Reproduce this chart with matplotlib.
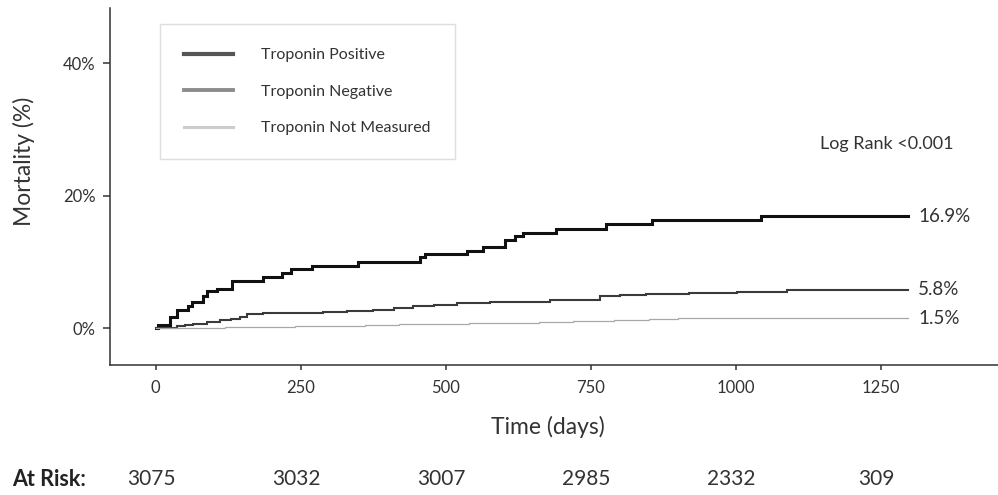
import matplotlib
matplotlib.use("Agg")
import matplotlib.pyplot as plt
import matplotlib.transforms as mtransforms
from matplotlib.lines import Line2D
from matplotlib.ticker import PercentFormatter

plt.rcParams['font.family'] = ['Lato', 'DejaVu Sans']

# Kaplan-Meier style cumulative mortality (%)
pos_t = [0, 4.5, 24.7, 36, 56, 62, 82, 88, 105, 131, 185, 217, 234, 269, 349,
         456, 464, 536, 565, 602, 619, 634, 690, 776, 855, 1044, 1297]
pos_y = [0, 0.45, 1.7, 2.7, 3.3, 4.0, 4.8, 5.6, 6.0, 7.2, 7.8, 8.3, 8.9, 9.4, 10.0,
         10.8, 11.2, 11.7, 12.2, 13.3, 13.9, 14.4, 15.0, 15.7, 16.3, 16.9, 16.9]

neg_t = [0, 25, 36, 50, 65, 88, 110, 130, 145, 157, 185, 230, 289, 330, 375, 410,
         444, 480, 519, 576, 628, 680, 766, 800, 846, 920, 1002, 1088, 1297]
neg_y = [0, 0.1, 0.35, 0.5, 0.7, 0.95, 1.2, 1.45, 1.7, 2.1, 2.3, 2.35, 2.45, 2.6, 2.8, 3.0,
         3.3, 3.55, 3.8, 4.0, 4.0, 4.3, 4.9, 5.05, 5.2, 5.35, 5.55, 5.8, 5.8]

nm_t = [0, 10, 60, 120, 180, 240, 300, 360, 420, 480, 540, 600, 660, 720, 790, 850, 900, 1297]
nm_y = [0, 0.05, 0.1, 0.15, 0.2, 0.3, 0.4, 0.5, 0.6, 0.7, 0.8, 0.85, 0.95, 1.1, 1.3, 1.4, 1.5, 1.5]

series_labels = ["Troponin Positive", "Troponin Negative", "Troponin Not Measured"]
end_labels = ["16.9%", "5.8%", "1.5%"]

risk_days = [0, 250, 500, 750, 1000, 1250]
at_risk = [3075, 3032, 3007, 2985, 2332, 309]

txt = "#333333"

fig = plt.figure(figsize=(9.98, 4.95), dpi=100)
ax = fig.add_axes([110 / 998, 1 - 365 / 495, 888 / 998, 356.7 / 495])

curves = [(pos_t, pos_y, "#111111", 2.2),
          (neg_t, neg_y, "#3a3a3a", 1.5),
          (nm_t, nm_y, "#a8a8a8", 0.9)]
for (t, y, c, lw), lab in zip(curves, end_labels):
    ax.step(t, y, where="post", color=c, lw=lw, solid_joinstyle="miter")
    ax.text(t[-1] + 17, y[-1], lab, fontsize=13.5, color=txt, va="center", ha="left")

ax.text(1145, 27.8, "Log Rank <0.001", fontsize=13, color=txt, va="center", ha="left")

ax.set_xlim(-78.8, 1452)
ax.set_ylim(-5.54, 48.3)
ax.set_xticks(risk_days)
ax.set_yticks([0, 20, 40])
ax.yaxis.set_major_formatter(PercentFormatter(xmax=100, decimals=0))

for s in ["top", "right"]:
    ax.spines[s].set_visible(False)
for s in ["left", "bottom"]:
    ax.spines[s].set_color("#333333")
    ax.spines[s].set_linewidth(1.1)

ax.tick_params(axis="x", length=3.6, width=1.1, color="#333333", pad=7.5,
               labelsize=12, labelcolor=txt)
ax.tick_params(axis="y", length=5, width=1.1, color="#333333", pad=5.5,
               labelsize=12, labelcolor=txt)

ax.set_xlabel("Time (days)", fontsize=16.5, color=txt)
ax.xaxis.set_label_coords((548 - 110) / 888, (365 - 426.7) / 356.7)
ax.xaxis.label.set_va("center")
ax.set_ylabel("Mortality (%)", fontsize=16.5, color=txt)
ax.yaxis.set_label_coords((24 - 110) / 888, (365 - 161.7) / 356.7)
ax.yaxis.label.set_va("center")

handles = [Line2D([], [], color="#555555", lw=3.0),
           Line2D([], [], color="#8c8c8c", lw=2.8),
           Line2D([], [], color="#cccccc", lw=2.2)]
leg = ax.legend(handles, series_labels, loc="upper left",
                bbox_to_anchor=((160 - 110) / 888, (365 - 24) / 356.7),
                fontsize=11.5, handlelength=3.1, handletextpad=1.75,
                borderpad=1.5, labelspacing=1.4, fancybox=False,
                frameon=True, borderaxespad=0)
leg.get_frame().set_edgecolor("#d6d6d6")
leg.get_frame().set_linewidth(1.0)
for t in leg.get_texts():
    t.set_color(txt)

# at-risk table under the axis
trans = mtransforms.blended_transform_factory(ax.transData, fig.transFigure)
fig.text(11.7 / 998, 1 - 479 / 495, "At Risk:", fontsize=15.5, fontweight="bold",
         color="#222222", va="center", ha="left")
for d, n in zip(risk_days, at_risk):
    ax.text(d - 8, 1 - 479 / 495, str(n), transform=trans, fontsize=15,
            color=txt, va="center", ha="center", clip_on=False)

fig.savefig("out.png", dpi=100)
